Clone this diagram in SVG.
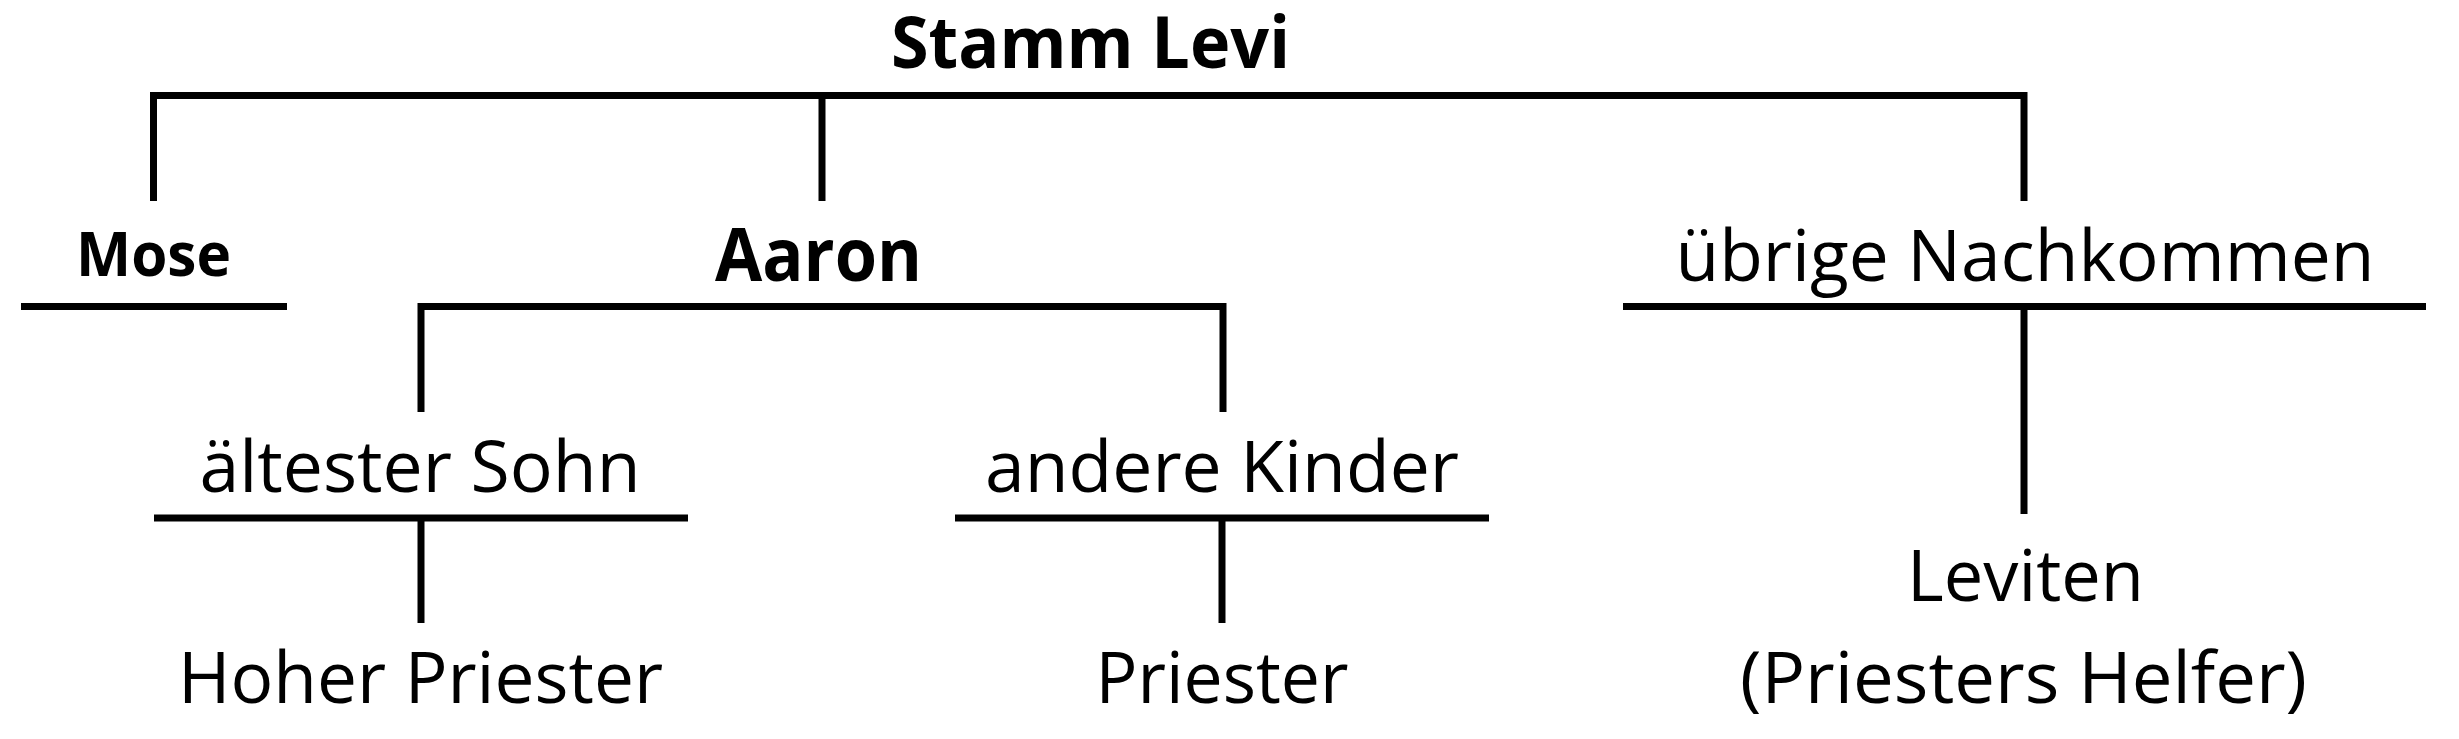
<svg xmlns="http://www.w3.org/2000/svg" width="2459" height="739" viewBox="0 0 2459 739">
<style>
.ln{fill:none;stroke:#000;stroke-width:7;stroke-linejoin:miter;stroke-linecap:butt}
text{font-family:"Open Sans","Noto Sans","Liberation Sans",sans-serif;fill:#000;text-anchor:middle}
.r{font-size:72px;font-weight:400}
.b{font-weight:700}
</style>
<rect width="2459" height="739" fill="#fff"/>
<g id="connectors">
<path class="ln" d="M153.5 201 V95.5 H2024 V201"/>
<path class="ln" d="M822 95.5 V201"/>
<path class="ln" d="M21 306.5 H287"/>
<path class="ln" d="M421 412 V306.5 H1223 V412"/>
<path class="ln" d="M1623 306.5 H2426"/>
<path class="ln" d="M2024 306.5 V514"/>
<path class="ln" d="M154 518 H688"/>
<path class="ln" d="M421 518 V623"/>
<path class="ln" d="M955 518 H1489"/>
<path class="ln" d="M1222 518 V623"/>
</g>
<g id="stamm-levi"><text class="b" x="1090.5" y="68" font-size="72" textLength="399" lengthAdjust="spacingAndGlyphs">Stamm Levi</text></g>
<g id="mose"><text class="b" x="153.5" y="276" font-size="61" textLength="155" lengthAdjust="spacingAndGlyphs">Mose</text></g>
<g id="aaron"><text class="b" x="818.5" y="281" font-size="74" textLength="207" lengthAdjust="spacingAndGlyphs">Aaron</text></g>
<g id="uebrige"><text class="r" x="2025" y="281" textLength="699" lengthAdjust="spacingAndGlyphs">übrige Nachkommen</text></g>
<g id="aeltester"><text class="r" x="420" y="492" textLength="441" lengthAdjust="spacingAndGlyphs">ältester Sohn</text></g>
<g id="andere"><text class="r" x="1222" y="492" textLength="474" lengthAdjust="spacingAndGlyphs">andere Kinder</text></g>
<g id="hoher-priester"><text class="r" x="420.5" y="703" textLength="485" lengthAdjust="spacingAndGlyphs">Hoher Priester</text></g>
<g id="priester"><text class="r" x="1222" y="703" textLength="253" lengthAdjust="spacingAndGlyphs">Priester</text></g>
<g id="leviten">
<text class="r" x="2025.5" y="601" textLength="237" lengthAdjust="spacingAndGlyphs">Leviten</text>
<text class="r" x="2023.5" y="703" textLength="567" lengthAdjust="spacingAndGlyphs">(Priesters Helfer)</text>
</g>
</svg>
